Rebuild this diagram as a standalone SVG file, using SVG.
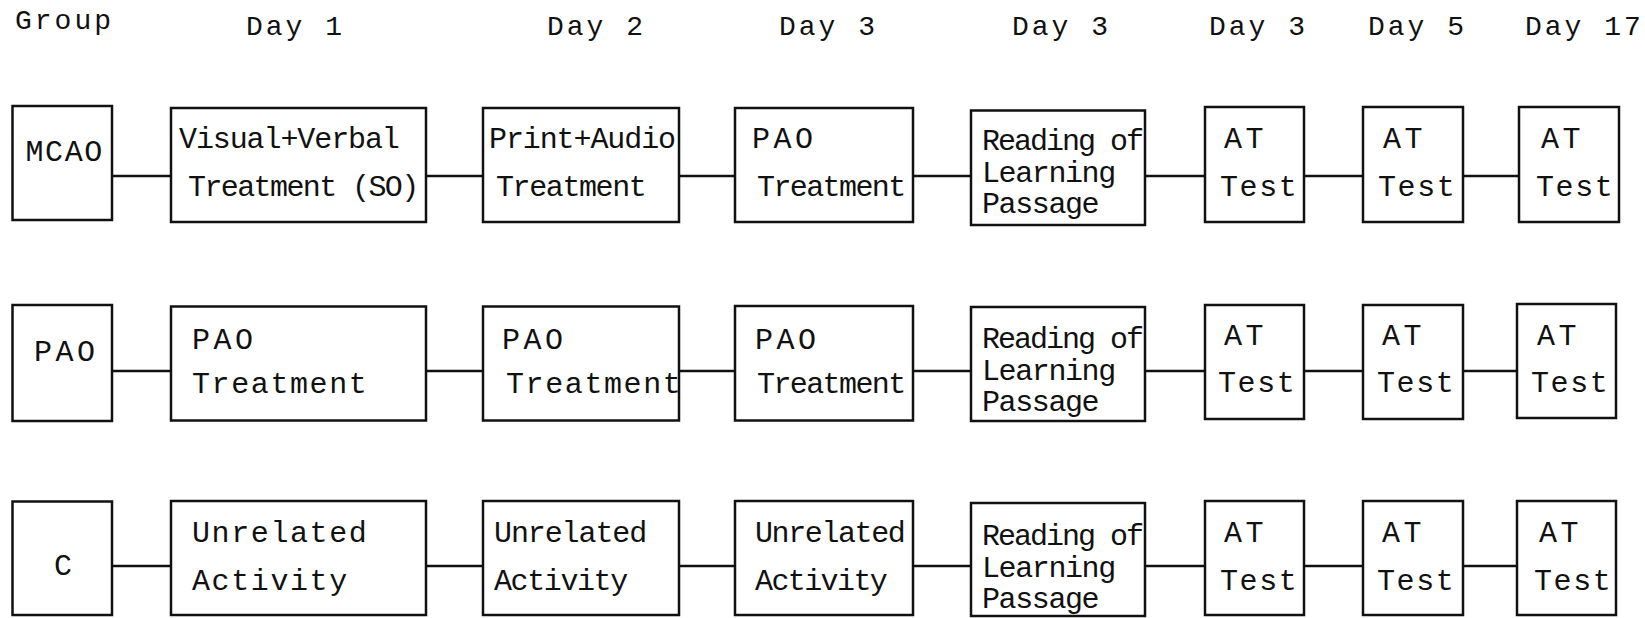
<svg xmlns="http://www.w3.org/2000/svg" width="1645" height="618" viewBox="0 0 1645 618">
<style>
  .box { fill: #fff; stroke: #111; stroke-width: 2.5; }
  line { stroke: #111; stroke-width: 2.5; }
  text { font-family: "Liberation Mono", "DejaVu Sans Mono", monospace; font-size: 30px; fill: #111; }
  .h { font-size: 28px; letter-spacing: 3px; }
  .w { letter-spacing: 1.6px; }
  .ww { letter-spacing: 3.5px; }
  .n { letter-spacing: -1.6px; }
  .n2 { letter-spacing: -1.1px; }
  .n3 { letter-spacing: -1.4px; }
  .n4 { letter-spacing: -2px; }
</style>
<rect width="1645" height="618" fill="#fff"/>

<g id="headers">
  <text class="h" x="15" y="29">Group</text>
  <text class="h" x="246" y="35">Day 1</text>
  <text class="h" x="547" y="35">Day 2</text>
  <text class="h" x="779" y="35">Day 3</text>
  <text class="h" x="1012" y="35">Day 3</text>
  <text class="h" x="1209" y="35">Day 3</text>
  <text class="h" x="1368" y="35">Day 5</text>
  <text class="h" x="1525" y="35">Day 17</text>
</g>

<g id="connectors">
  <line x1="112" y1="176" x2="171" y2="176"/>
  <line x1="426" y1="176" x2="483" y2="176"/>
  <line x1="679" y1="176" x2="735" y2="176"/>
  <line x1="913" y1="176" x2="971" y2="176"/>
  <line x1="1145" y1="176" x2="1205" y2="176"/>
  <line x1="1304" y1="176" x2="1363" y2="176"/>
  <line x1="1463" y1="176" x2="1519" y2="176"/>

  <line x1="112" y1="371" x2="171" y2="371"/>
  <line x1="426" y1="371" x2="483" y2="371"/>
  <line x1="679" y1="371" x2="735" y2="371"/>
  <line x1="913" y1="371" x2="971" y2="371"/>
  <line x1="1145" y1="371" x2="1205" y2="371"/>
  <line x1="1304" y1="371" x2="1363" y2="371"/>
  <line x1="1463" y1="371" x2="1517" y2="371"/>

  <line x1="112" y1="566" x2="171" y2="566"/>
  <line x1="426" y1="566" x2="483" y2="566"/>
  <line x1="679" y1="566" x2="735" y2="566"/>
  <line x1="913" y1="566" x2="971" y2="566"/>
  <line x1="1145" y1="566" x2="1205" y2="566"/>
  <line x1="1304" y1="566" x2="1363" y2="566"/>
  <line x1="1463" y1="566" x2="1517" y2="566"/>
</g>

<!-- Row 1: MCAO -->
<g id="mcao">
  <rect class="box" x="12.5" y="106" width="99.5" height="114"/>
  <text class="w" x="25.5" y="161">MCAO</text>
</g>
<g id="mcao-day1">
  <rect class="box" x="171" y="108" width="255" height="114"/>
  <text class="n2" x="179" y="148">Visual+Verbal</text>
  <text class="n" x="188" y="196">Treatment (SO)</text>
</g>
<g id="mcao-day2">
  <rect class="box" x="483" y="108" width="196" height="114"/>
  <text class="n2" x="489" y="148">Print+Audio</text>
  <text class="n3" x="496" y="196">Treatment</text>
</g>
<g id="mcao-day3">
  <rect class="box" x="735" y="108" width="178" height="114"/>
  <text class="ww" x="752" y="148">PAO</text>
  <text class="n" x="757" y="196">Treatment</text>
</g>
<g id="mcao-reading">
  <rect class="box" x="971" y="110.5" width="174" height="114.5"/>
  <text class="n4" x="982" y="150">Reading of</text>
  <text class="n3" x="982" y="182">Learning</text>
  <text class="n3" x="982" y="213">Passage</text>
</g>
<g id="mcao-test1">
  <rect class="box" x="1205" y="107" width="99" height="115"/>
  <text class="ww" x="1224" y="148">AT</text>
  <text class="w" x="1220" y="196">Test</text>
</g>
<g id="mcao-test2">
  <rect class="box" x="1363" y="107" width="100" height="115"/>
  <text class="ww" x="1383" y="148">AT</text>
  <text class="w" x="1378" y="196">Test</text>
</g>
<g id="mcao-test3">
  <rect class="box" x="1519" y="107" width="100" height="115"/>
  <text class="ww" x="1541" y="148">AT</text>
  <text class="w" x="1536" y="196">Test</text>
</g>

<!-- Row 2: PAO -->
<g id="pao">
  <rect class="box" x="12.5" y="305" width="99.5" height="116"/>
  <text class="ww" x="34" y="361">PAO</text>
</g>
<g id="pao-day1">
  <rect class="box" x="171" y="306.5" width="255" height="114"/>
  <text class="ww" x="192" y="349">PAO</text>
  <text class="w" x="192" y="393">Treatment</text>
</g>
<g id="pao-day2">
  <rect class="box" x="483" y="306.5" width="196" height="114"/>
  <text class="ww" x="502" y="349">PAO</text>
  <text class="w" x="506" y="393">Treatment</text>
</g>
<g id="pao-day3">
  <rect class="box" x="735" y="306" width="178" height="114.5"/>
  <text class="ww" x="755" y="349">PAO</text>
  <text class="n" x="757" y="393">Treatment</text>
</g>
<g id="pao-reading">
  <rect class="box" x="971" y="307" width="174" height="114"/>
  <text class="n4" x="982" y="348">Reading of</text>
  <text class="n3" x="982" y="380">Learning</text>
  <text class="n3" x="982" y="411">Passage</text>
</g>
<g id="pao-test1">
  <rect class="box" x="1205" y="305" width="99" height="114"/>
  <text class="ww" x="1224" y="345">AT</text>
  <text class="w" x="1218" y="392">Test</text>
</g>
<g id="pao-test2">
  <rect class="box" x="1363" y="305" width="100" height="114"/>
  <text class="ww" x="1382" y="345">AT</text>
  <text class="w" x="1377" y="392">Test</text>
</g>
<g id="pao-test3">
  <rect class="box" x="1517" y="304" width="99" height="114"/>
  <text class="ww" x="1537" y="345">AT</text>
  <text class="w" x="1531" y="392">Test</text>
</g>

<!-- Row 3: C -->
<g id="c">
  <rect class="box" x="12.5" y="501.5" width="99.5" height="113.5"/>
  <text x="54" y="575">C</text>
</g>
<g id="c-day1">
  <rect class="box" x="171" y="501" width="255" height="114"/>
  <text class="w" x="192" y="542">Unrelated</text>
  <text class="w" x="192" y="590">Activity</text>
</g>
<g id="c-day2">
  <rect class="box" x="483" y="501" width="196" height="114"/>
  <text class="n2" x="494" y="542">Unrelated</text>
  <text class="n3" x="494" y="590">Activity</text>
</g>
<g id="c-day3">
  <rect class="box" x="735" y="501" width="178" height="114"/>
  <text class="n3" x="755" y="542">Unrelated</text>
  <text class="n" x="755" y="590">Activity</text>
</g>
<g id="c-reading">
  <rect class="box" x="971" y="503" width="174" height="113"/>
  <text class="n4" x="982" y="545">Reading of</text>
  <text class="n3" x="982" y="577">Learning</text>
  <text class="n3" x="982" y="608">Passage</text>
</g>
<g id="c-test1">
  <rect class="box" x="1205" y="501" width="99" height="114"/>
  <text class="ww" x="1224" y="542">AT</text>
  <text class="w" x="1220" y="590">Test</text>
</g>
<g id="c-test2">
  <rect class="box" x="1363" y="501" width="100" height="114"/>
  <text class="ww" x="1382" y="542">AT</text>
  <text class="w" x="1377" y="590">Test</text>
</g>
<g id="c-test3">
  <rect class="box" x="1517" y="501" width="99" height="114"/>
  <text class="ww" x="1539" y="542">AT</text>
  <text class="w" x="1534" y="590">Test</text>
</g>
</svg>
